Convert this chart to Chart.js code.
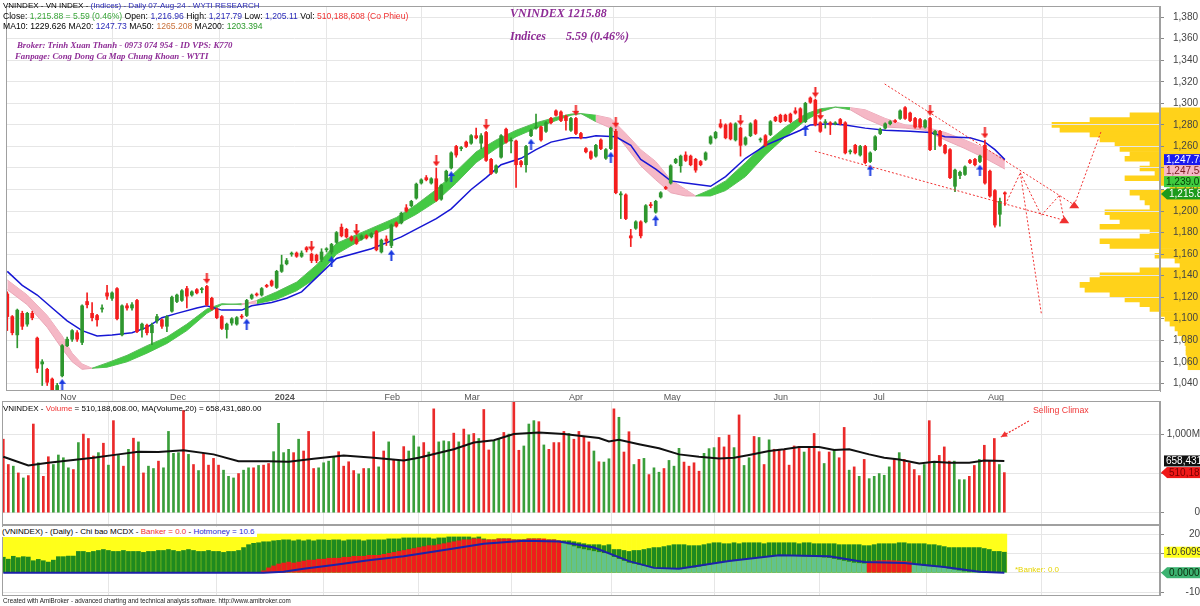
<!DOCTYPE html>
<html>
<head>
<meta charset="utf-8">
<script src="https://cdn.jsdelivr.net/npm/chart.js@4.4.0/dist/chart.umd.min.js"></script>
<style>
body { margin: 0; background: #fff; width: 1200px; height: 606px; overflow: hidden; position: relative; font-family: "Liberation Sans", Arial, sans-serif; }
canvas { position: absolute; left: 0; }
.t { position: absolute; white-space: nowrap; font-size: 8px; line-height: 10px; color: #000; }
.p { position: absolute; white-space: nowrap; font-family: "Liberation Serif", "Times New Roman", serif; font-style: italic; font-weight: bold; color: #8e2c96; }
</style>
</head>
<body>
<canvas id="profileChart" width="200" height="401" style="left:1000px;top:0"></canvas>
<canvas id="priceChart" width="1200" height="401" style="top:0"></canvas>
<canvas id="volChart" width="1200" height="124" style="top:401px"></canvas>
<canvas id="mcdxChart" width="1200" height="71" style="top:525px"></canvas>

<div class="t" style="left:3px;top:1px">VNINDEX - VN INDEX - <span style="color:#2b2bb8">(Indices) - Daily 07-Aug-24 - WYTI RESEARCH</span></div>
<div class="t" style="left:3px;top:11px;font-size:8.6px">Close: <span style="color:#3aa63a">1,215.88 = 5.59 (0.46%)</span> Open: <span style="color:#2b2bb8">1,216.96</span> High: <span style="color:#2b2bb8">1,217.79</span> Low: <span style="color:#2b2bb8">1,205.11</span> Vol: <span style="color:#f03030">510,188,608 (Co Phieu)</span></div>
<div class="t" style="left:3px;top:21px;font-size:8.6px">MA10: 1229.626 MA20: <span style="color:#2b2bb8">1247.73</span> MA50: <span style="color:#c8703a">1265.208</span> MA200: <span style="color:#2a9a2a">1203.394</span></div>
<div class="p" style="left:17px;top:40px;font-size:8.8px">Broker: Trinh Xuan Thanh - 0973 074 954 - ID VPS: K770</div>
<div class="p" style="left:15px;top:51px;font-size:8.8px">Fanpage: Cong Dong Ca Map Chung Khoan - WYTI</div>
<div class="p" style="left:510px;top:6px;font-size:12px">VNINDEX 1215.88</div>
<div class="p" style="left:510px;top:29px;font-size:12px">Indices</div>
<div class="p" style="left:566px;top:29px;font-size:12px">5.59 (0.46%)</div>
<div class="t" style="left:3px;top:404px">VNINDEX - <span style="color:#f03030">Volume</span> = 510,188,608.00, MA(Volume,20) = 658,431,680.00</div>
<div class="t" style="left:1033px;top:405px;font-size:8.8px;color:#f03a3a">Selling Climax</div>
<div class="t" style="left:2px;top:527px;background:#fff;padding-right:2px">(VNINDEX) - (Daily) - Chi bao MCDX - <span style="color:#f03030">Banker = 0.0</span> - <span style="color:#2b2bd0">Hotmoney = 10.6</span></div>
<div class="t" style="left:1015px;top:565px;color:#e6d400">*Banker: 0.0</div>
<div class="t" style="left:3px;top:597px;font-size:6.3px;line-height:8px;color:#222">Created with AmiBroker - advanced charting and technical analysis software. http://www.amibroker.com</div>

<script>
// ---- data ----
const monthIdx = [10, 32, 53, 75, 91, 112, 131, 153, 173, 196];
const monthLbl = ['Nov', 'Dec', '2024', 'Feb', 'Mar', 'Apr', 'May', 'Jun', 'Jul', 'Aug'];
const priceTicks = [1040, 1060, 1080, 1100, 1120, 1140, 1160, 1180, 1200, 1220, 1240, 1260, 1280, 1300, 1320, 1340, 1360, 1380];

const opens = [
  1123,1102,1085,1105,1095,1105,1082,1058,1053,1044,
  1033,1047,1075,1081,1087,1078,1116,1105,1103,1109,1124,1119,1128,1085,1112,1110,1117,1090,1094,1087,1098,1099,
  1093,1107,1116,1117,1128,1122,1127,1127,1130,1119,1109,1102,1090,1096,1095,1102,1103,1119,1123,1122,1131,
  1135,1129,1144,1151,1160,1161,1158,1166,1160,1159,1155,1164,1162,1171,1185,1183,1176,1174,1174,1177,1176,1181,
  1162,1174,1168,1189,1189,1203,1205,1212,1226,1231,1226,1230,1211,1228,1240,1260,
  1258,1264,1263,1270,1263,1273,1248,1236,1250,1276,1265,1265,1246,1243,1270,1277,1278,1274,1286,1293,1292,
  1288,1275,1286,1272,1258,1255,1251,1266,1249,1258,1274,1215,1215,1177,1184,1190,1190,1206,1199,
  1213,1222,1226,1245,1242,1252,1251,1248,1246,1248,1263,1268,1281,1280,1281,1266,1277,1262,1270,1284,1266,1270,
  1271,1287,1289,1289,1290,1293,1295,1283,1305,1303,1282,1282,1282,1281,1285,1282,1255,1261,1252,1260,
  1246,1257,1272,1277,1281,1284,1286,1296,1291,1286,1285,1278,1286,1271,1274,1261,1257,1223,1233,1234,1247,1248,1246,
  1261,1237,1219,1197,1216.96
];
const highs = [
  1125,1103,1109,1107,1106,1107,1083,1062,1054,1045,
  1040,1076,1083,1090,1089,1113,1124,1115,1104,1113,1131,1125,1129,1113,1114,1115,1118,1096,1095,1096,1104,1100,
  1103,1121,1123,1127,1130,1126,1128,1129,1131,1120,1110,1103,1096,1101,1102,1104,1118,1123,1124,1129,1132,
  1136,1145,1159,1156,1162,1162,1163,1167,1161,1160,1165,1166,1170,1181,1188,1184,1177,1176,1178,1178,1180,1182,
  1174,1177,1188,1190,1199,1206,1210,1226,1230,1233,1231,1240,1225,1238,1255,1261,
  1260,1265,1271,1277,1272,1274,1249,1243,1271,1277,1268,1266,1247,1261,1276,1290,1279,1283,1287,1294,1293,
  1289,1287,1287,1273,1259,1256,1262,1267,1258,1278,1276,1218,1216,1183,1191,1191,1206,1208,1210,
  1218,1223,1243,1249,1252,1255,1252,1249,1247,1255,1270,1274,1285,1281,1282,1282,1278,1269,1282,1285,1268,1271,
  1284,1288,1290,1290,1291,1296,1296,1301,1306,1304,1283,1285,1283,1283,1286,1283,1257,1262,1261,1261,
  1255,1270,1277,1282,1284,1285,1294,1297,1292,1287,1286,1285,1287,1275,1275,1262,1258,1239,1237,1242,1248,1249,1252,
  1266,1238,1220,1212,1217.79
];
const lows = [
  1089,1085,1073,1090,1093,1099,1050,1038,1038,1030,
  1030,1046,1074,1079,1079,1076,1110,1098,1093,1106,1118,1117,1099,1084,1108,1108,1087,1083,1085,1076,1096,1091,
  1088,1106,1115,1116,1110,1121,1123,1124,1112,1108,1100,1090,1082,1094,1094,1100,1102,1118,1121,1121,1129,
  1130,1128,1143,1150,1158,1157,1157,1162,1152,1152,1153,1162,1160,1170,1176,1175,1172,1169,1173,1174,1175,1163,
  1161,1168,1166,1185,1188,1199,1204,1211,1225,1228,1225,1209,1210,1227,1239,1250,
  1256,1259,1262,1267,1258,1246,1234,1235,1249,1263,1254,1222,1241,1236,1269,1276,1265,1273,1281,1288,1283,
  1275,1274,1271,1267,1254,1248,1250,1257,1248,1257,1216,1193,1192,1167,1183,1175,1189,1203,1198,
  1212,1220,1225,1244,1236,1246,1242,1236,1242,1247,1262,1267,1277,1267,1266,1265,1251,1261,1269,1271,1264,1260,
  1270,1283,1282,1283,1282,1290,1282,1282,1300,1279,1273,1277,1271,1280,1280,1253,1253,1253,1251,1244,
  1245,1256,1271,1276,1280,1282,1285,1285,1283,1277,1277,1277,1256,1257,1260,1253,1230,1218,1230,1233,1244,1242,1245,
  1225,1213,1185,1186,1205.11
];
const closes = [
  1102,1087,1108,1093,1105,1101,1054,1060,1041,1034,
  1038,1075,1081,1089,1081,1112,1113,1101,1099,1110,1121,1124,1100,1112,1110,1113,1088,1095,1087,1094,1102,1093,
  1102,1120,1122,1126,1121,1125,1124,1127.5,1113,1109,1101,1091,1095,1100,1101,1101.5,1117,1122,1122,1128,1130,
  1131,1144,1150,1154,1160.5,1158,1161,1164,1154,1154,1162,1165,1169,1180,1177,1176,1173,1170,1177,1175,1179,1164,
  1173,1172,1187,1186,1198,1200,1209,1225,1229,1229,1230,1210,1224,1237,1254,1252,
  1258.5,1260,1270,1268,1270,1247,1235,1242,1270,1264,1266,1243,1243,1260,1275,1278,1266,1282,1282,1289,1284,
  1284,1286,1272,1268,1255,1249,1261,1258,1257,1277,1217,1216,1193,1175,1190,1177,1205,1205,1209,
  1217,1221,1242,1248,1251,1247,1243,1238,1243,1254,1269,1273,1278,1268,1267,1281,1261,1268,1281,1272,1266.5,1261,
  1283,1284,1283,1284,1283,1291,1283,1300,1301,1280,1274,1282.5,1280,1281.5,1281,1254,1255.5,1254,1260,1245,
  1254,1269,1276,1281,1283,1283,1293,1286,1284,1278,1278,1284,1257,1274,1261,1254,1231,1238,1236,1241,1245,1243,1251,
  1226,1214,1187,1209,1215.88
];

// MA20 (blue) and the fast/slow ribbon, sampled as [bar index, value]
const ma20Pts = [[0,1144],[3,1131],[6,1122],[9,1110],[12,1098],[15,1089],[18,1084],[21,1085],[25,1087],[28,1092],[31,1101],
  [34,1105],[38,1110],[40,1112],[43,1108],[47,1108],[49,1112],[53,1115],[56,1119],[59,1125],[66,1156],[73,1165],[79,1176],
  [86,1193],[89,1202],[93,1220],[96,1231],[99,1243],[103,1249],[106,1257],[109,1264],[113,1268],[116,1268],[118,1270],
  [122,1269],[125,1261],[127,1248],[130,1239],[133,1228],[136,1226],[141,1223],[144,1232],[148,1249],[152,1261],
  [156,1269],[159,1275],[161,1280],[165,1281],[168,1280],[172,1277],[176,1275],[181,1274],[185,1273],[188,1269],
  [193,1268],[196,1264],[198,1257],[200,1247.73]];
const ribFast = [[0,1127],[4,1113],[8,1092],[11,1072],[13,1060],[15,1053],[17,1054],[20,1059],[24,1066],[28,1075],
  [32,1083],[36,1095],[40,1109],[43,1114],[47,1113],[50,1117],[54,1125],[58,1134],[62,1150],[66,1170],[72,1182],
  [78,1194],[82,1206],[86,1220],[90,1237],[94,1255],[98,1266],[102,1275],[106,1282],[110,1287],[113,1290],[115,1290.5],
  [118,1283],[121,1277],[124,1260],[127,1242],[130,1229],[133,1217],[136,1214],[138,1214],[141,1220],[144,1228],
  [148,1245],[152,1263],[156,1278],[160,1290],[163,1295],[166,1296.5],[169,1294],[172,1286],[176,1278],[180,1277],
  [184,1275],[188,1266],[192,1258],[196,1249],[200,1239.01]];
const ribSlow = [[0,1136],[4,1122],[8,1103],[11,1084],[13,1068],[15,1058],[17,1054],[20,1055],[24,1060],[28,1068],
  [32,1077],[36,1089],[40,1105],[43,1113],[47,1114],[50,1114],[54,1118],[58,1126],[62,1138],[66,1160],[72,1176],
  [78,1187],[82,1197],[86,1209],[90,1226],[94,1245],[98,1258],[102,1269],[106,1277],[110,1284],[113,1289],[115,1290.5],
  [118,1289],[121,1286],[124,1272],[127,1257],[130,1246],[133,1229],[136,1220],[138,1214],[141,1214],[144,1219],
  [148,1232],[152,1252],[156,1269],[160,1284],[163,1292],[166,1296.5],[169,1296],[172,1294],[176,1286],[180,1280],
  [184,1278],[188,1273],[192,1266],[196,1258],[200,1247.58]];

const arrowDownIdx = [40, 61, 70, 86, 96, 114, 122, 147, 162, 163, 185, 196];
const arrowUpIdx = [11, 48, 65, 77, 89, 105, 121, 130, 160, 173, 195];

// volume in millions of shares
const volumes = [
  935,613,592,506,442,472,1128,635,463,712,
  613,734,699,571,549,892,1000,944,721,764,
  884,605,1171,729,592,806,948,901,506,592,
  562,656,571,1034,755,764,1300,742,613,536,
  755,605,691,605,541,463,442,498,541,571,
  571,601,605,626,776,1137,764,806,764,935,
  785,1034,562,571,635,656,712,776,592,648,
  536,493,562,562,1030,583,785,901,678,656,
  841,785,978,837,892,772,1321,901,914,905,
  1012,901,1064,991,1008,944,1313,798,914,944,
  1021,1000,1450,794,849,1128,1171,1158,862,806,
  892,892,1034,1008,935,1034,970,901,785,648,
  644,686,1321,1214,772,1030,613,678,691,485,
  571,515,562,665,592,819,644,592,635,528,
  755,815,828,957,837,987,828,1244,601,699,
  970,957,613,927,807,807,807,605,849,841,
  772,841,1008,776,626,772,807,699,1085,541,
  583,463,678,433,463,498,476,583,678,764,
  678,635,549,472,613,1171,648,729,837,656,
  656,420,420,463,601,678,858,656,944,613,
  510
];
const volMaPts = [[0,712],[5,600],[9,635],[18,699],[23,742],[27,776],[31,772],[36,794],[42,742],[47,656],[53,656],
  [57,648],[62,686],[68,729],[74,699],[80,665],[83,699],[90,807],[94,892],[98,922],[102,1000],[107,1021],[112,1000],
  [119,950],[121,905],[123,927],[127,871],[131,819],[135,742],[139,712],[143,691],[146,699],[149,734],[153,785],
  [156,807],[159,837],[163,837],[166,798],[169,807],[173,742],[176,699],[179,678],[183,626],[186,648],[189,635],
  [193,635],[196,665],[200,658]];

// MCDX panel
const hotMoney = [
  8,7,8.5,7.8,8.3,8.1,6.2,6.9,6.2,5.5,
  6.5,8.3,8.3,8.6,8.6,11,11,10.5,11,11.5,12,11.5,11,11,11.5,11,11,11,10.5,11,11,11.5,
  11.5,12,11.5,11,11.5,12,11.5,11,11,11.5,11,11,10.5,11,11,11.5,13,14.5,15.2,15.5,16,
  16,16.5,16.7,17,17,16.5,17,16.5,17,16.5,17,17,16.8,17,17,16.5,17,17,17,16.5,17,17,
  17,17,17.5,17.5,17.5,18,18,18,18,18,18,17.5,18,18,18.5,18.5,
  18.5,18.5,18.5,18,18.5,17.5,17,17,17.5,17.5,17.5,17,17,17,17.5,17.5,17.5,17,17,17,16.5,
  16.5,16.5,16,15.5,15,14.5,14.5,14.5,14,14.5,12,12,11.5,11,11.5,11.5,12,12.5,13,
  13,13.5,14,14.5,14.5,14.5,14,14,14,14.5,15,15.5,15.5,15,15,15.5,15,15.5,15.5,15.5,15.5,15,
  15.5,15.5,15.5,15.5,15.5,15.5,15,15.5,15.5,15,15,15,15,15,14.5,14.5,14.5,14.5,14.5,14,
  14,14.5,15,15,15,15,15.5,15.5,15,15,15,15,14.5,14.5,14,13.5,13,13,13,13,13,13,13,
  12.5,12,11,11,10.6
];
const banker = [
  0,0,0,0,0,0,0,0,0,0,
  0,0,0,0,0,0,0,0,0,0,0,0,0,0,0,0,0,0,0,0,0,0,
  0,0,0,0,0,0,0,0,0,0,0,0,0,0,0,0,0,0,0,0,1,
  2.5,3.5,4.5,5,5.5,5,5.5,6,6.5,6.5,7,7,7.5,7.5,7.5,8,8,8.5,8.5,8.5,9,9,
  9,9.5,10,10.5,11,11.5,12,12.5,13,13.5,14,14,14.5,15,15.5,16,
  16.5,17,17,17.5,17.5,17,17,17,17.5,17.5,17.5,17,17,17,17.5,17.5,17.5,17.5,17,17,16.5,
  15.5,14.5,13.5,12.5,12,11.5,11,10.5,10,10,8,7,6,5,4.5,4,3.5,3,2.5,
  2,2,2,1.8,1.8,2,2.2,2.5,3,3.5,4,4.5,5,5.5,5.8,6.3,6.5,6.8,7,7.5,7.5,8,
  8.3,8.5,8.7,8.7,8.6,8.5,8.4,8.3,8.2,8,7.9,7.7,7.5,7,6.5,6,5.5,5,4.8,4.6,
  5.5,6,6.2,6.3,6.3,6.2,6,5.8,5.6,4.5,4,3.5,3.2,3,2.8,2.5,2,1.5,1,0.5,0.3,0,0,
  0,0,0,0,0
];
const bankerLinePts = [[0,0],[52,0],[56,0.5],[60,2],[66,4],[73,6.5],[80,8.5],[90,12.5],[96,15],[104,16.5],[111,16.2],
  [118,13],[125,6],[130,2.5],[135,2],[145,6],[155,9],[165,8.5],[172,5.5],[180,5],[188,3],[195,0.5],[200,0]];

// volume-at-price profile on the right (price level, bar length)
const profPrice = [1300,1295,1290,1285,1280,1275,1270,1265,1260,1255,1250,1245,1240,1235,1230,1225,1220,1215,1210,1205,
  1200,1195,1190,1185,1180,1175,1170,1165,1160,1155,1150,1145,1140,1135,1130,1125,1120,1115,1110,1105,1100,1095,1090,
  1085,1080,1075,1070,1065,1060,1055,1050,1045,1040,1035];
const profLen = [40,70,110,148,140,110,100,85,80,70,75,50,60,45,75,40,30,70,60,55,
  50,95,90,80,100,50,60,100,90,40,45,25,20,60,100,110,120,115,90,75,60,50,40,
  35,30,25,22,18,15,14,14,13,13,12];

// hand-drawn red dotted lines [bar, price, bar, price] and arrow tips
const trendSegs = [[175.9,1318,214.7,1203.4],[161.9,1255.6,211.9,1191.4],[200.1,1206,203.1,1235.5],
  [203.1,1235.5,207.3,1105],[203.1,1235.5,207.3,1196],[207.3,1196,210.9,1214.4],[210.9,1214.4,211.9,1191.4],
  [213.9,1205.3,219.3,1274]];
const trendTips = [[211.9,1191.4],[213.9,1205.3]];
const climaxArrow = [204.9, 1167, 199.3, 963];

// ---- helpers ----
Chart.defaults.font.family = '"Liberation Sans", Arial, sans-serif';
Chart.defaults.animation = false;
const X_MIN = -0.26, X_MAX = 231.1;
const UP = '#2e962e', DOWN = '#f41e1e', GRID = '#e6e6e6', AXIS = '#a0a0a0';
const isUp = i => closes[i] >= opens[i];

// banker bar is red while above its blue average line, light green below it
function bankerLineAt(i) {
  for (let k = 1; k < bankerLinePts.length; k++) {
    const [x0, y0] = bankerLinePts[k - 1], [x1, y1] = bankerLinePts[k];
    if (i <= x1) return y0 + (y1 - y0) * (i - x0) / (x1 - x0);
  }
  return 0;
}

function xScale(showLabels) {
  return {
    type: 'linear', min: X_MIN, max: X_MAX, offset: false,
    afterBuildTicks: s => { s.ticks = monthIdx.map(v => ({ value: v })); },
    grid: { color: GRID, drawTicks: showLabels, tickLength: 10, tickColor: GRID },
    border: { display: false },
    ticks: {
      display: showLabels, autoSkip: false, maxRotation: 0, align: 'start', padding: -9, labelOffset: 3,
      color: '#555',
      font: c => ({ size: 9, weight: c.tick && c.tick.value === 53 ? 'bold' : 'normal' }),
      callback: v => monthLbl[monthIdx.indexOf(v)] || ''
    },
    afterFit: s => { s.height = showLabels ? 10 : 0; s.paddingLeft = 0; s.paddingRight = 0; }
  };
}
function yScale(min, max, ticks, fmt, far) {
  return {
    position: 'right', min: min, max: max,
    afterBuildTicks: s => { s.ticks = ticks.map(v => ({ value: v })); },
    afterFit: s => { s.width = 40; s.paddingTop = 0; s.paddingBottom = 0; },
    grid: { color: GRID, tickLength: 4, tickColor: '#888' },
    border: { color: AXIS },
    ticks: { color: '#444', font: { size: 10 }, padding: far ? 3 : 9, crossAlign: far ? 'far' : 'near', callback: fmt }
  };
}
const framePlugin = {
  id: 'frame',
  afterDraw(chart) {
    const { ctx, chartArea: a } = chart;
    ctx.save();
    ctx.strokeStyle = AXIS; ctx.lineWidth = 1;
    ctx.strokeRect(a.left + 0.5, a.top + 0.5, a.right - a.left - 1, a.bottom - a.top - 1);
    ctx.restore();
  }
};
const boxPlugin = {
  id: 'valueBoxes',
  afterDraw(chart, args, opts) {
    const { ctx, chartArea } = chart, y = chart.scales.y;
    let prevBottom = -1e9;
    ctx.save();
    ctx.font = '10px "Liberation Sans", Arial';
    ctx.textBaseline = 'middle';
    (opts.items || []).forEach(b => {
      const h = 11;
      let cy = y.getPixelForValue(b.value);
      if (cy - h / 2 < prevBottom) cy = prevBottom + h / 2;
      prevBottom = cy + h / 2;
      const x0 = chartArea.right + (b.pointer ? 7 : 4);
      ctx.fillStyle = b.bg;
      ctx.fillRect(x0, cy - h / 2, 60, h);
      if (b.pointer) {
        ctx.beginPath();
        ctx.moveTo(chartArea.right + 1, cy);
        ctx.lineTo(x0, cy - h / 2);
        ctx.lineTo(x0, cy + h / 2);
        ctx.fill();
      }
      ctx.fillStyle = b.fg;
      ctx.fillText(b.text, x0 + 2, cy + 0.5);
    });
    ctx.restore();
  }
};
function arrowImg(color, up) {
  const c = document.createElement('canvas');
  c.width = 7; c.height = 11;
  const g = c.getContext('2d');
  g.fillStyle = color;
  g.beginPath();
  if (up) { g.moveTo(3.5, 0); g.lineTo(0, 5); g.lineTo(7, 5); g.fill(); g.fillRect(2.5, 5, 2, 6); }
  else { g.fillRect(2.5, 0, 2, 6); g.moveTo(0, 6); g.lineTo(7, 6); g.lineTo(3.5, 11); g.fill(); }
  return c;
}
const pts = arr => arr.map(p => ({ x: p[0], y: p[1] }));

// ---- volume profile (behind the price chart) ----
new Chart(document.getElementById('profileChart'), {
  type: 'bar',
  data: { datasets: [{
    data: profPrice.map((p, i) => ({ y: p, x: profLen[i] })),
    backgroundColor: '#ffd21a', barPercentage: 1, categoryPercentage: 1
  }] },
  options: {
    indexAxis: 'y', responsive: false, layout: { padding: { top: 1, bottom: 10 } },
    plugins: { legend: { display: false }, tooltip: { enabled: false } },
    scales: {
      x: { type: 'linear', reverse: true, min: 0, max: 200, display: false },
      y: { type: 'linear', min: 1032.9, max: 1390.4, display: false }
    }
  }
});

// ---- price panel ----
const trendPlugin = {
  id: 'trend',
  afterDatasetsDraw(chart) {
    const { ctx, scales: { x, y } } = chart;
    ctx.save();
    ctx.strokeStyle = '#f03030'; ctx.lineWidth = 1; ctx.setLineDash([2, 2]);
    trendSegs.forEach(s => {
      ctx.beginPath();
      ctx.moveTo(x.getPixelForValue(s[0]), y.getPixelForValue(s[1]));
      ctx.lineTo(x.getPixelForValue(s[2]), y.getPixelForValue(s[3]));
      ctx.stroke();
    });
    ctx.setLineDash([]);
    ctx.fillStyle = '#f03030';
    trendTips.forEach(t => {
      const px = x.getPixelForValue(t[0]), py = y.getPixelForValue(t[1]);
      ctx.beginPath(); ctx.moveTo(px - 5, py + 3); ctx.lineTo(px + 5, py + 3); ctx.lineTo(px, py - 4); ctx.fill();
    });
    ctx.restore();
  }
};
const ribColor = i => {
  const f = ribFast[i][1], s = ribSlow[i][1];
  return f >= s ? '#44c944' : '#f5b8c6';
};
new Chart(document.getElementById('priceChart'), {
  type: 'bar',
  data: { datasets: [
    { type: 'line', data: pts(ribFast), fill: '+1', order: 10, borderWidth: 1, pointRadius: 0, borderColor: '#7bc77b',
      backgroundColor: '#44c944',
      segment: { backgroundColor: c => ribColor(c.p0DataIndex), borderColor: c => ribColor(c.p0DataIndex) === '#44c944' ? '#5cba5c' : '#e9a6b6' } },
    { type: 'line', data: pts(ribSlow), order: 11, borderWidth: 1, pointRadius: 0, borderColor: '#8fcf8f',
      segment: { borderColor: c => ribColor(c.p0DataIndex) === '#44c944' ? '#5cba5c' : '#e9a6b6' } },
    { type: 'line', data: pts(ma20Pts), order: 5, borderWidth: 1.5, pointRadius: 0, borderColor: '#1616d4' },
    { data: lows.map((l, i) => ({ x: i, y: [l, highs[i]] })), order: 3, barThickness: 1, grouped: false,
      backgroundColor: lows.map((l, i) => isUp(i) ? UP : DOWN) },
    { data: opens.map((o, i) => ({ x: i, y: [o, closes[i]] })), order: 2, barThickness: 3, grouped: false, minBarLength: 1,
      backgroundColor: opens.map((o, i) => isUp(i) ? UP : DOWN) },
    { type: 'scatter', data: arrowDownIdx.map(i => ({ x: i, y: highs[i] + 6.5 })), order: 1,
      pointStyle: arrowImg('#f02020', false), pointRadius: 5 },
    { type: 'scatter', data: arrowUpIdx.map(i => ({ x: i, y: lows[i] - 7 })), order: 1,
      pointStyle: arrowImg('#1a3ae0', true), pointRadius: 5 }
  ] },
  options: {
    responsive: false, layout: { padding: { left: 2, top: 1, right: 0, bottom: 0 } },
    plugins: {
      legend: { display: false }, tooltip: { enabled: false },
      valueBoxes: { items: [
        { value: 1247.73, text: '1,247.73', bg: '#1a1aef', fg: '#fff' },
        { value: 1247.58, text: '1,247.58', bg: '#f5b8c6', fg: '#7a1a1a' },
        { value: 1239.01, text: '1,239.01', bg: '#3fcb3f', fg: '#063d06' },
        { value: 1215.88, text: '1,215.88', bg: '#1c9a1c', fg: '#fff', pointer: true }
      ] }
    },
    scales: {
      x: xScale(true),
      y: yScale(1032.9, 1390.4, priceTicks, v => v.toLocaleString('en-US'), false)
    }
  },
  plugins: [trendPlugin, framePlugin, boxPlugin]
});

// ---- volume panel ----
const climaxPlugin = {
  id: 'climax',
  afterDatasetsDraw(chart) {
    const { ctx, scales: { x, y } } = chart;
    const x1 = x.getPixelForValue(climaxArrow[0]), y1 = y.getPixelForValue(climaxArrow[1]);
    const x2 = x.getPixelForValue(climaxArrow[2]), y2 = y.getPixelForValue(climaxArrow[3]);
    ctx.save();
    ctx.strokeStyle = '#f03030'; ctx.fillStyle = '#f03030'; ctx.setLineDash([2, 1.5]); ctx.lineWidth = 1.2;
    ctx.beginPath(); ctx.moveTo(x1, y1); ctx.lineTo(x2, y2); ctx.stroke();
    ctx.setLineDash([]);
    const a = Math.atan2(y2 - y1, x2 - x1);
    ctx.beginPath();
    ctx.moveTo(x2, y2);
    ctx.lineTo(x2 - 7 * Math.cos(a - 0.45), y2 - 7 * Math.sin(a - 0.45));
    ctx.lineTo(x2 - 7 * Math.cos(a + 0.45), y2 - 7 * Math.sin(a + 0.45));
    ctx.fill();
    ctx.restore();
  }
};
new Chart(document.getElementById('volChart'), {
  type: 'bar',
  data: { datasets: [
    { type: 'line', data: pts(volMaPts), order: 1, borderWidth: 2, pointRadius: 0, borderColor: '#111' },
    { data: volumes.map((v, i) => ({ x: i, y: v })), order: 2, barThickness: 2, grouped: false,
      backgroundColor: volumes.map((v, i) => isUp(i) ? '#3a9e3a' : '#ea2a2a') }
  ] },
  options: {
    responsive: false, layout: { padding: { left: 2, top: 0, right: 0, bottom: 0 } },
    plugins: {
      legend: { display: false }, tooltip: { enabled: false },
      valueBoxes: { items: [
        { value: 658.43, text: '658,431,680', bg: '#111', fg: '#fff' },
        { value: 510.19, text: '510,188,608', bg: '#f01818', fg: '#7a0000', pointer: true }
      ] }
    },
    scales: {
      x: xScale(false),
      y: yScale(-156.5, 1421, [0, 500, 1000], v => v === 1000 ? '1,000M' : v === 0 ? '0' : '', true)
    }
  },
  plugins: [climaxPlugin, framePlugin, boxPlugin]
});

// ---- MCDX panel ----
new Chart(document.getElementById('mcdxChart'), {
  type: 'bar',
  data: { datasets: [
    { type: 'line', data: pts(bankerLinePts), order: 0, borderWidth: 2, pointRadius: 0, borderColor: '#1c22a8' },
    { data: banker.map((v, i) => ({ x: i, y: v })), order: 1, barThickness: 4, grouped: false,
      backgroundColor: banker.map((v, i) => v > bankerLineAt(i) ? '#f01c1c' : '#62c28e') },
    { data: hotMoney.map((v, i) => ({ x: i, y: v })), order: 2, barThickness: 4, grouped: false, backgroundColor: '#1f8a1f' },
    { data: hotMoney.map((v, i) => ({ x: i, y: 20 })), order: 3, barThickness: 5, grouped: false, backgroundColor: '#ffff1a' }
  ] },
  options: {
    responsive: false, layout: { padding: { left: 2, top: 0, right: 0, bottom: 0 } },
    plugins: {
      legend: { display: false }, tooltip: { enabled: false },
      valueBoxes: { items: [
        { value: 10.6099, text: '10.6099', bg: '#ffff1a', fg: '#333' },
        { value: 0, text: '0.00000', bg: '#3cb371', fg: '#0b2b0b', pointer: true }
      ] }
    },
    scales: {
      x: xScale(false),
      y: yScale(-12.05, 24.68, [-10, 0, 10, 20], v => v === 20 || v === -10 ? String(v) : '', true)
    }
  },
  plugins: [framePlugin, boxPlugin]
});
</script>
</body>
</html>
